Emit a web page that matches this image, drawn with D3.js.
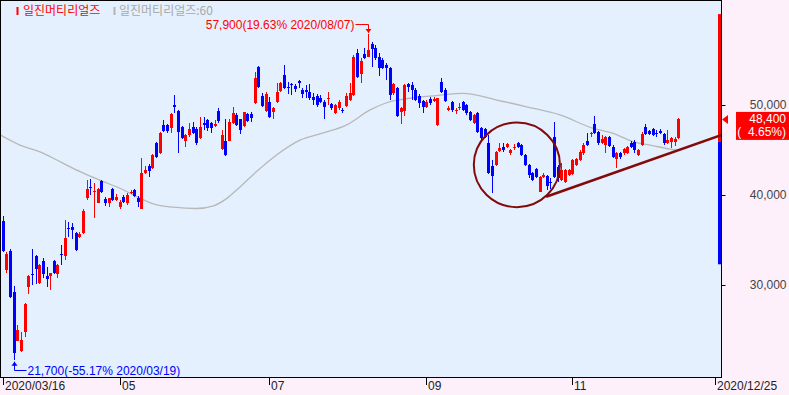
<!DOCTYPE html>
<html>
<head>
<meta charset="utf-8">
<title>일진머티리얼즈</title>
<script src="https://d3js.org/d3.v7.min.js"></script>
<style>
  body { margin: 0; background: #fdf0fb; }
  svg { display: block; font-family: "Liberation Sans", Arial, sans-serif; font-size: 12px; }
  .kr { font-family: "Noto Sans CJK KR", sans-serif; font-size: 12px; }
  .pre { white-space: pre; }
</style>
</head>
<body>
<svg width="789" height="395"></svg>
<script>
// daily candles, 2020/03/16 ... (won)
var opens = [37100,31650,33800,29250,23800,22650,24800,29800,31200,33250,30200,32700,31050,31050,32650,31200,33500,33250,36350,36500,
  35800,35350,35800,39650,40900,40350,39150,41550,39550,39150,40650,39450,38650,39800,39150,40200,40550,39650,38500,42400,
  43200,43050,45750,44650,47800,47800,47400,50000,49350,47600,46050,46650,47600,47300,46300,48000,48350,47950,47700,49350,
  45100,46000,46050,47950,48900,48400,47700,48950,48950,50250,54250,51050,49350,50300,49200,50300,51550,53350,52050,52300,
  52150,52650,51650,51650,51500,50900,51050,50800,50300,50650,50100,49100,49650,49500,49900,50550,51100,55750,53500,55650,
  55350,56750,56350,55350,55000,54500,54150,51300,51850,49250,49350,52300,52200,51650,51050,50450,49800,50650,50450,47750,
  52600,51650,49450,50350,49300,49700,50350,50000,49250,48050,49100,47400,47300,45750,43200,43350,44900,45350,45350,44650,
  45200,45800,45550,44450,43350,42400,42850,40350,41950,42100,41400,46500,43150,41650,41500,42200,42350,43350,43900,44650,
  46000,46750,47900,47050,45800,45550,46400,45350,43950,44650,44650,44700,45800,45900,44450,45550,47600,47150,47300,46900,
  47150,46800,45750,45900,45900,46300];
var highs = [37650,33650,34000,29900,25550,24800,28000,31100,34000,33350,32350,33000,32050,31350,32800,32300,34450,37200,37050,36850,
  35900,35900,38500,41650,41750,41300,40800,41650,39800,39700,40800,40100,39400,39950,40200,40550,40650,39900,44100,43200,
  43400,44550,45900,47000,48350,47900,49100,51100,49450,47700,46800,47950,48100,47550,48650,48650,48500,48150,48350,49650,
  47200,48400,48500,49800,49100,48500,49250,49100,49250,53700,54350,51350,51500,50900,49800,52400,52600,54450,52600,52500,
  52300,52800,51900,52200,52300,51300,51200,51100,50550,51400,50200,50100,50550,49700,51300,52400,55550,56200,55200,56300,
  57900,57050,56650,55750,55200,54700,54250,52400,52050,49750,52300,52400,52600,51900,51200,50550,50550,50900,50900,50800,
  53000,51900,49900,50500,49650,50200,50500,50100,49350,49000,49200,47550,47450,46650,43900,44900,45750,45800,45800,45100,
  45650,45900,45700,44550,43450,42550,43000,42100,42400,42250,41900,48150,43300,43550,42900,42900,44000,44100,44950,45800,
  46850,47050,48800,47150,46650,46600,46550,45550,44800,44750,45200,45450,46000,46100,45100,47050,47900,47250,47450,47200,
  47300,46900,47200,46500,46500,48550];
var lows = [33650,31350,28550,21700,23750,22550,24250,28950,30000,30100,30100,30800,29800,29450,31200,30800,32200,32800,35350,35100,
  33800,35200,35650,39450,40000,37400,39100,40200,38800,38700,39300,39300,38500,39150,38900,40100,39800,38650,38450,42300,
  41950,42900,44150,44550,47000,46850,46900,49100,44650,46200,45350,46500,46750,45600,46200,47200,47150,46900,47600,47950,
  45000,44350,46000,47900,47650,46750,47600,48100,48100,50100,51900,49800,49200,48550,48500,50200,51450,51750,51200,51100,
  51500,51850,50750,50750,50550,50000,49800,50200,48500,50000,49500,49000,49500,49100,49800,50450,51000,53000,52500,55100,
  55300,54250,55000,53200,54000,52800,50550,51100,48700,47850,48800,51500,50550,50400,49700,49100,49700,50050,50300,47700,
  51300,50350,49350,49200,49000,49450,49300,48900,48200,47900,46900,46150,46300,42300,40250,43200,44800,44800,45250,44450,
  45000,45250,44300,43200,41900,41550,41900,40300,41850,40550,40650,41900,41500,41550,41350,42100,42200,43200,43800,44500,
  45450,46500,46800,45600,45700,44650,45300,44100,42950,43950,44500,44600,45250,44650,44350,45450,46650,46650,46550,46500,
  46800,45550,45650,45200,45450,46200];
var closes = [33800,33450,28650,22450,25000,23900,27900,31000,31100,31750,32250,31200,30700,31350,31300,32200,33300,35200,36200,36100,
  33900,35650,38250,40650,40750,40500,40650,40350,39100,39650,39450,39800,39250,39250,40000,40350,39900,39250,42500,42800,
  42650,44450,44250,46900,47150,47150,49000,49750,47050,46300,46650,47300,46850,45750,47600,47800,47400,47500,47850,48250,
  46650,44450,48100,49100,47800,47200,49200,48250,48600,52950,52050,49900,51200,48700,49700,51400,52400,51850,51850,52200,
  51800,52400,51200,51400,50800,50550,50000,50350,49800,50800,49650,50000,50350,49400,51050,51300,55350,53150,54900,55250,
  56100,56200,55200,54100,54150,54100,51100,52300,48800,49650,52200,52050,51650,50550,50200,49800,50300,50200,50650,50750,
  51500,50450,49650,49450,49400,49800,49450,49100,48350,48900,47050,46300,46500,42500,42100,44800,45200,45000,45650,45000,
  45350,45350,44450,43350,42200,41650,42050,41950,42250,41000,41300,42050,41850,42800,42800,42800,43900,43950,44800,45550,
  45550,46850,46900,45750,46200,46500,45450,44250,44700,44250,45100,45350,45350,45000,45000,46750,46800,46800,46650,46800,
  46900,45750,46100,46350,46250,48400];

// 60-day moving average, sampled along the grey line (candle index, won)
var maIdx = [-1, 4.7, 10.2, 15.7, 21.2, 26.6, 32.1, 37.6, 42.2, 46.7, 53.1, 57.7, 61.3, 65, 69.5, 75, 81.4, 87.8, 94.2, 100.6,
  105.1, 111.5, 118.8, 126.1, 135.3, 143.5, 152.6, 161.7, 167.2, 172.7, 177.3, 182.7, 185];
var maVal = [46750, 45550, 44800, 43700, 42600, 41650, 40750, 39650, 38900, 38650, 38500, 38800, 39600, 40900, 42600, 44450, 46100, 46900, 47800, 49450,
  50250, 50750, 51050, 51300, 50550, 49800, 48900, 47400, 46850, 45900, 45550, 45100, 44950];

var priceTicks = [30000, 40000, 50000];
var dateTickIdx = [0, 32, 73, 116, 156, 195];
var dateTickLabels = ["2020/03/16", "05", "07", "09", "11", "2020/12/25"];

var highNote = [100, 57900, "57,900(19.63% 2020/08/07)"];
var lowNote = [3, 21700, "21,700(-55.17% 2020/03/19)"];
var lastPrice = [48400, "48,400", "(  4.65%)"];
var sideBar = [60100, 45950, 32300];          // red top, split, blue bottom
var trendLine = [[148.8, 39800], [196.7, 46650]];
var circleNote = [140.8, 43350, 11.8, 4700];  // centre idx, centre price, radius idx, radius price

var svg = d3.select("svg"),
    plotW = 721, plotH = 377;

var x = d3.scaleLinear().domain([0, 185]).range([2.7, 678.3]);
var y = d3.scaleLinear().domain([30000, 50000]).range([285, 105]);

svg.append("rect").attr("width", 789).attr("height", 395).attr("fill", "#fdf0fb");
svg.append("rect").attr("width", plotW).attr("height", plotH).attr("fill", "#e4f0fd");

svg.append("clipPath").attr("id", "plot")
  .append("rect").attr("width", plotW).attr("height", plotH);

var g = svg.append("g").attr("clip-path", "url(#plot)");

// moving average
var ma = maIdx.map(function(d, i) { return [d, maVal[i]]; });
g.append("path")
    .datum(ma)
    .attr("fill", "none")
    .attr("stroke", "#b8b8b8")
    .attr("stroke-width", 1.3)
    .attr("d", d3.line().curve(d3.curveMonotoneX)
      .x(function(d) { return x(d[0]); })
      .y(function(d) { return y(d[1]); }));

// candles
var candles = opens.map(function(o, i) {
  return {i: i, o: o, h: highs[i], l: lows[i], c: closes[i]};
});
var cg = g.append("g").attr("shape-rendering", "crispEdges");
var col = function(d) { return d.c >= d.o ? "#ff0000" : "#0000ff"; };

cg.selectAll("line.wick")
  .data(candles)
  .enter().append("line")
    .attr("class", "wick")
    .attr("x1", function(d) { return Math.round(x(d.i)) + 0.5; })
    .attr("x2", function(d) { return Math.round(x(d.i)) + 0.5; })
    .attr("y1", function(d) { return y(d.h); })
    .attr("y2", function(d) { return y(d.l); })
    .attr("stroke", col);

cg.selectAll("rect.body")
  .data(candles)
  .enter().append("rect")
    .attr("class", "body")
    .attr("x", function(d) { return Math.round(x(d.i)) - 1; })
    .attr("width", 3)
    .attr("y", function(d) { return y(Math.max(d.o, d.c)); })
    .attr("height", function(d) { return Math.max(1, Math.abs(y(d.o) - y(d.c))); })
    .attr("fill", col);

// side range bar at the right edge
g.append("rect").attr("x", 718).attr("width", 3)
  .attr("y", y(sideBar[0])).attr("height", y(sideBar[1]) - y(sideBar[0]))
  .attr("fill", "#ff0000");
g.append("rect").attr("x", 718).attr("width", 3)
  .attr("y", y(sideBar[1])).attr("height", y(sideBar[2]) - y(sideBar[1]))
  .attr("fill", "#0000ff");

// drawn annotations: circle and support line
g.append("ellipse")
  .attr("cx", x(circleNote[0])).attr("cy", y(circleNote[1]))
  .attr("rx", x(circleNote[0] + circleNote[2]) - x(circleNote[0]))
  .attr("ry", y(circleNote[1] - circleNote[3]) - y(circleNote[1]))
  .attr("fill", "none").attr("stroke", "#820a0a").attr("stroke-width", 2);
g.append("line")
  .attr("x1", x(trendLine[0][0])).attr("y1", y(trendLine[0][1]))
  .attr("x2", x(trendLine[1][0])).attr("y2", y(trendLine[1][1]))
  .attr("stroke", "#820a0a").attr("stroke-width", 2.5);

// high / low notes
var hx = Math.round(x(highNote[0])) + 0.5, hy = y(highNote[1]);
g.append("path").attr("d", "M" + (hx - 13) + "," + 24.5 + "H" + hx + "V" + (hy - 1))
  .attr("fill", "none").attr("stroke", "#ff0000");
g.append("path").attr("d", "M" + (hx - 3) + "," + (hy - 5) + "L" + (hx + 3) + "," + (hy - 5) + "L" + hx + "," + (hy - 1) + "Z")
  .attr("fill", "#ff0000");
g.append("text").attr("x", hx - 14).attr("y", 28.5).attr("text-anchor", "end")
  .attr("fill", "#ff0000").text(highNote[2]);

var lx = Math.round(x(lowNote[0])) + 0.5, ly = y(lowNote[1]);
g.append("path").attr("d", "M" + lx + "," + (ly + 2) + "V" + 370.5 + "H" + (lx + 12))
  .attr("fill", "none").attr("stroke", "#0000ff");
g.append("path").attr("d", "M" + (lx - 3) + "," + (ly + 6) + "L" + (lx + 3) + "," + (ly + 6) + "L" + lx + "," + (ly + 2) + "Z")
  .attr("fill", "#0000ff");
g.append("text").attr("x", lx + 13).attr("y", 374.5)
  .attr("fill", "#0000ff").text(lowNote[2]);

// plot frame
svg.append("rect").attr("x", 0.5).attr("y", 0.5).attr("width", plotW).attr("height", plotH)
  .attr("fill", "none").attr("stroke", "#000").attr("shape-rendering", "crispEdges");

// right price axis
var ya = svg.append("g")
  .attr("transform", "translate(" + (plotW + 0.5) + ",0)")
  .call(d3.axisRight(y).tickValues(priceTicks).tickFormat(d3.format(",")).tickSize(4));
ya.select(".domain").remove();
ya.selectAll("line").attr("stroke", "#000");
ya.selectAll("text").attr("x", 65).attr("text-anchor", "end")
  .attr("fill", "#444").style("font-size", "12px").style("font-family", "Liberation Sans, Arial, sans-serif");

// current price marker
var py = y(lastPrice[0]);
svg.append("path").attr("d", "M" + (plotW + 1) + "," + py + "L" + (plotW + 7) + "," + (py - 4.5) + "L" + (plotW + 7) + "," + (py + 4.5) + "Z")
  .attr("fill", "#ff0000");
svg.append("rect").attr("x", 736).attr("y", py - 7.5).attr("width", 53).attr("height", 28).attr("fill", "#ff0000");
svg.append("text").attr("x", 786).attr("y", py + 3.5).attr("text-anchor", "end")
  .attr("fill", "#fff").text(lastPrice[1]);
svg.append("text").attr("class", "pre").attr("x", 786).attr("y", py + 16.5).attr("text-anchor", "end")
  .attr("fill", "#fff").text(lastPrice[2]);

// date axis
var xa = svg.append("g");
xa.selectAll("line")
  .data(dateTickIdx)
  .enter().append("line")
    .attr("x1", function(d) { return Math.round(x(d)) + 0.5; })
    .attr("x2", function(d) { return Math.round(x(d)) + 0.5; })
    .attr("y1", plotH + 1).attr("y2", plotH + 8)
    .attr("stroke", "#000");
xa.selectAll("text")
  .data(dateTickIdx)
  .enter().append("text")
    .attr("x", function(d) { return Math.round(x(d)) + 2; })
    .attr("y", 389.5)
    .attr("fill", "#222")
    .text(function(d, i) { return dateTickLabels[i]; });

// legend
svg.append("rect").attr("x", 16.5).attr("y", 7).attr("width", 2).attr("height", 8).attr("fill", "#ff0000");
svg.append("text").attr("class", "kr").attr("x", 23).attr("y", 15).attr("fill", "#ff0000").text("일진머티리얼즈");
svg.append("rect").attr("x", 113.5).attr("y", 7).attr("width", 2).attr("height", 8).attr("fill", "#b4b4b4");
svg.append("text").attr("class", "kr").attr("x", 119).attr("y", 15).attr("fill", "#a8a8a8").text("일진머티리얼즈:60");
</script>
</body>
</html>
